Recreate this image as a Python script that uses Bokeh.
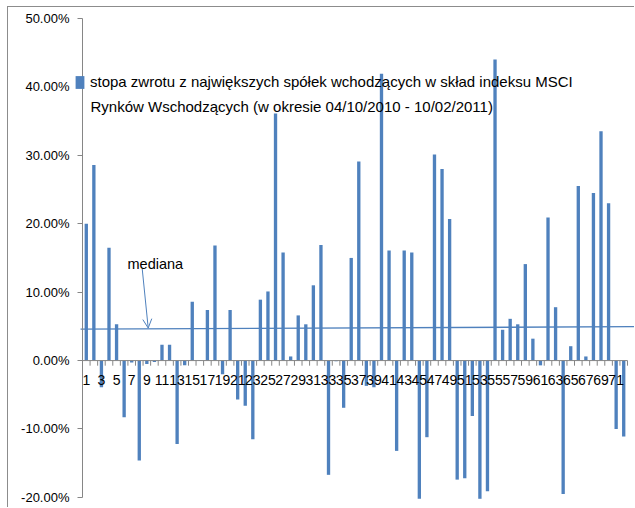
from bokeh.plotting import figure
from bokeh.models import (Range1d, FixedTicker, PrintfTickFormatter, Label,
                          Legend, LegendItem, Arrow, OpenHead)
from bokeh.embed import file_html
from bokeh.resources import INLINE
from bokeh.core.properties import value

# ---- data ----
categories = list(range(1, 73))
returns_pct = [
    20.0, 28.6, -3.9, 16.5, 5.3, -8.3, -0.3, -14.6, -0.5, -0.2,
    2.3, 2.3, -12.2, -0.7, 8.6, 0.1, 7.4, 16.8, -2.0, 7.4,
    -5.7, -6.6, -11.5, 8.9, 10.1, 36.1, 15.8, 0.6, 6.6, 5.3,
    11.0, 16.9, -16.7, -0.1, -6.9, 15.0, 29.1, -3.7, -3.9, 41.9,
    16.1, -13.2, 16.1, 15.8, -20.2, -11.2, 30.1, 28.0, 20.7, -17.4,
    -17.2, -8.1, -20.2, -19.1, 44.0, 4.5, 6.1, 5.3, 14.1, 3.2,
    -0.7, 20.9, 7.8, -19.5, 2.1, 25.5, 0.6, 24.5, 33.5, 23.0,
    -10.0, -11.1,
]
y_ticks = [-20, -10, 0, 10, 20, 30, 40, 50]
x_label_cats = [c for c in categories if c % 2 == 1]
x_tick_labels = [str(c) for c in x_label_cats]
median_line = [4.6, 4.95]
legend_lines = [
    "stopa zwrotu z największych spółek wchodzących w skład indeksu MSCI",
    "Rynków Wschodzących  (w okresie 04/10/2010 - 10/02/2011)",
]
median_label = "mediana"

# ---- style ----
BLUE = "#4F81BD"
GRAY = "#868686"
FONT = "Liberation Sans"
X_START = -9.277
X_END = 73.557

p = figure(width=627, height=501, output_backend="svg", toolbar_location=None,
           x_range=Range1d(X_START, X_END), y_range=Range1d(-21.62, 51.60),
           x_axis_location=None,
           min_border_left=0, min_border_right=0, min_border_top=0,
           min_border_bottom=0,
           styles={"margin-left": "7px", "margin-top": "6px",
                   "border-left": "1px solid #8c8c8c",
                   "border-top": "1px solid #8c8c8c"})
p.outline_line_color = None
p.grid.visible = False
p.background_fill_color = "white"
p.border_fill_color = "white"

ya = p.yaxis[0]
ya.fixed_location = 0.5
ya.bounds = (y_ticks[0], y_ticks[-1])
ya.ticker = FixedTicker(ticks=y_ticks)
ya.formatter = PrintfTickFormatter(format="%.2f%%")
ya.axis_line_color = GRAY
ya.major_tick_line_color = GRAY
ya.major_tick_out = 5
ya.major_tick_in = 0
ya.minor_tick_line_color = None
ya.major_label_standoff = 8
ya.major_label_text_font = FONT
ya.major_label_text_font_size = "13px"
ya.major_label_text_color = "black"

bars = p.vbar(x=categories, top=returns_pct, bottom=0, width=0.44,
              fill_color=BLUE, line_color=None)

# category axis at zero
bounds = [c - 0.5 for c in categories] + [categories[-1] + 0.5]
p.segment(x0=[bounds[0]], y0=[0], x1=[bounds[-1]], y1=[0], line_color=GRAY, line_width=1)
p.segment(x0=bounds, y0=[0] * len(bounds), x1=bounds, y1=[-0.75] * len(bounds),
          line_color=GRAY, line_width=1)
p.text(x=x_label_cats, y=[-2.9] * len(x_label_cats), text=x_tick_labels,
       text_align="center", text_baseline="middle",
       text_font=value(FONT), text_font_size="14px", text_color="black")

# median line + annotation
p.line(x=[0.24, X_END], y=median_line, line_color=BLUE, line_width=1.3)
p.add_layout(Arrow(end=OpenHead(size=9, line_color=BLUE, line_width=1),
                   x_start=8.39, y_start=13.4, x_end=9.18, y_end=4.75,
                   line_color=BLUE, line_width=1))
p.add_layout(Label(x=6.45, y=14.1, text=median_label, text_baseline="alphabetic",
                   text_font=FONT, text_font_size="14.5px", text_color="black"))

# legend (frame covers whole canvas)
legend = Legend(items=[LegendItem(label=legend_lines[0], renderers=[bars])],
                location=(66, 418), padding=0, margin=0, spacing=0,
                border_line_color=None, background_fill_alpha=0,
                glyph_width=11, glyph_height=16, label_standoff=5, label_height=16,
                label_text_font=FONT, label_text_font_size="15px",
                label_text_color="black")
p.add_layout(legend)
p.add_layout(Label(x=1.557, y=37.13, text=legend_lines[1], text_baseline="middle",
                   text_font=FONT, text_font_size="15px", text_color="black"))

open("out.html", "w").write(file_html(p, INLINE))
